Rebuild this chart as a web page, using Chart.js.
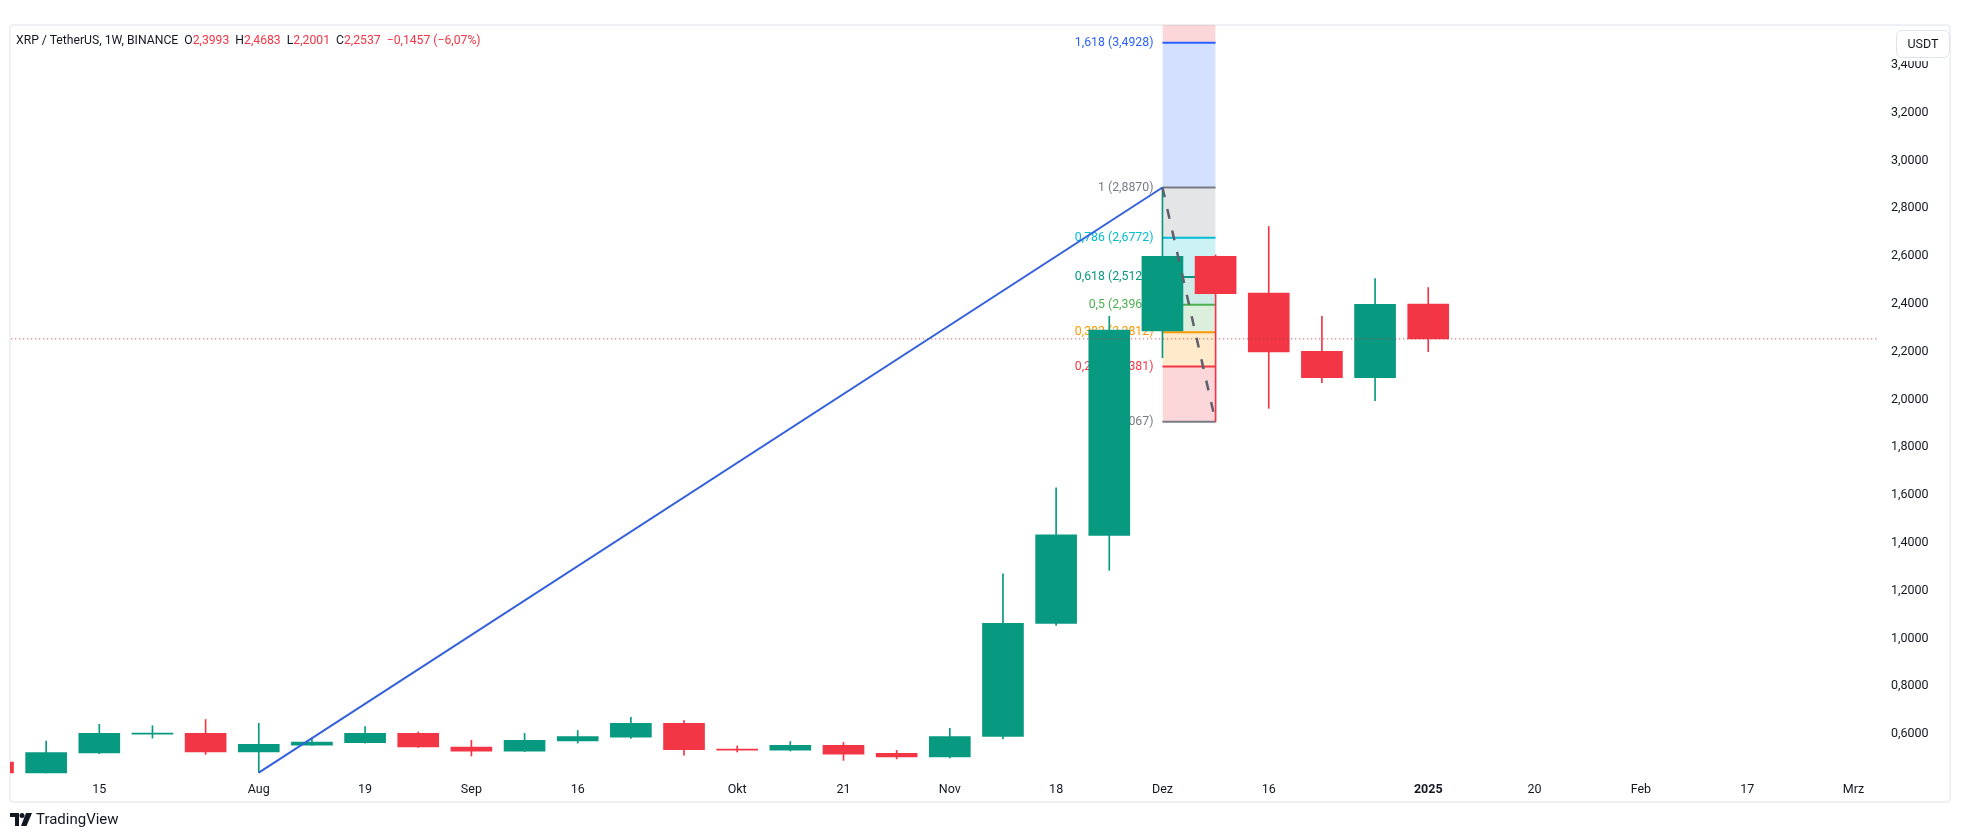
<!DOCTYPE html>
<html>
<head>
<meta charset="utf-8">
<script src="https://cdn.jsdelivr.net/npm/chart.js@4.4.1/dist/chart.umd.min.js"></script>
<style>
  html, body { margin: 0; padding: 0; background: #fff; }
  body { width: 1964px; height: 837px; position: relative; overflow: hidden;
         font-family: Roboto, "Noto Sans", sans-serif; color: #131722; }
  #panel { position: absolute; left: 9px; top: 24px; width: 1942px; height: 779px;
           border: 2px solid #eef0f3; border-radius: 4px; box-sizing: border-box; }
  #chart { position: absolute; left: 0; top: 0; }
  #legend { position: absolute; left: 16px; top: 33px; font-size: 12.2px; white-space: pre; }
  #legend .r { color: #f23645; }
  #usdt { position: absolute; left: 1896px; top: 30px; width: 54px; height: 28px; box-sizing: border-box;
          border: 1px solid #e0e3eb; border-radius: 6px; background: #fff; box-shadow: 0 3px 0 #fff;
          font-size: 12.5px; line-height: 26px; text-align: center; }
  #logo { position: absolute; left: 10px; top: 810px; font-size: 15px; line-height: 18px; display: flex; align-items: center; }
  #logo svg { margin-right: 4px; }
</style>
</head>
<body>
<div id="panel"></div>
<canvas id="chart" width="1964" height="837"></canvas>
<div id="legend">XRP / TetherUS, 1W, BINANCE  O<span class="r">2,3993</span>  H<span class="r">2,4683</span>  L<span class="r">2,2001</span>  C<span class="r">2,2537</span>  <span class="r">−0,1457 (−6,07%)</span></div>
<div id="usdt">USDT</div>
<div id="logo">
  <svg width="22" height="13" viewBox="0 0 22 13"><path d="M0 0H9V13H5V4H0Z" fill="#131722"/><circle cx="12" cy="2.5" r="2.5" fill="#131722"/><path d="M16 0H22L16.5 13H11Z" fill="#131722"/></svg>
  <span>TradingView</span>
</div>
<script>
// weekly candles, index 0 = week of 1 Jul 2024
const weeks  = [0, 1, 2, 3, 4, 5, 6, 7, 8, 9, 10, 11, 12, 13, 14, 15, 16, 17, 18, 19, 20, 21, 22, 23, 24, 25, 26, 27];
const opens  = [0.483, 0.437, 0.521, 0.600, 0.603, 0.525, 0.554, 0.564, 0.603, 0.546, 0.529, 0.571, 0.587, 0.645, 0.537, 0.533, 0.553, 0.519, 0.504, 0.590, 1.063, 1.431, 2.287, 2.599, 2.4455, 2.202, 2.091, 2.3993];
const highs  = [0.490, 0.571, 0.641, 0.635, 0.661, 0.645, 0.585, 0.631, 0.609, 0.574, 0.603, 0.615, 0.670, 0.657, 0.550, 0.569, 0.565, 0.532, 0.624, 1.271, 1.630, 2.348, 2.887, 2.605, 2.724, 2.348, 2.506, 2.4683];
const lows   = [0.383, 0.437, 0.518, 0.583, 0.515, 0.439, 0.553, 0.562, 0.544, 0.508, 0.527, 0.562, 0.582, 0.512, 0.525, 0.529, 0.490, 0.496, 0.500, 0.580, 1.055, 1.285, 2.175, 1.9067, 1.963, 2.070, 1.995, 2.2001];
const closes = [0.437, 0.523, 0.603, 0.604, 0.525, 0.557, 0.567, 0.603, 0.546, 0.529, 0.574, 0.590, 0.645, 0.535, 0.533, 0.553, 0.516, 0.504, 0.590, 1.063, 1.434, 2.290, 2.599, 2.443, 2.199, 2.091, 2.398, 2.2537];

const xTickWeeks  = [2, 5, 7, 9, 11, 14, 16, 18, 20, 22, 24, 27, 29, 31, 33, 35];
const xTickLabels = ['15', 'Aug', '19', 'Sep', '16', 'Okt', '21', 'Nov', '18', 'Dez', '16', '2025', '20', 'Feb', '17', 'Mrz'];
const yTicks = [0.6, 0.8, 1.0, 1.2, 1.4, 1.6, 1.8, 2.0, 2.2, 2.4, 2.6, 2.8, 3.0, 3.2, 3.4];

// fib extension drawn between week 22 and 23
const fibLevels = [0, 0.236, 0.382, 0.5, 0.618, 0.786, 1, 1.618, 2.618];
const fibPrices = [1.9067, 2.1381, 2.2812, 2.3969, 2.5127, 2.6772, 2.8870, 3.4928, 4.4714];
const fibColors = ['#787b86', '#f23645', '#ff9800', '#4caf50', '#089981', '#00bcd4', '#787b86', '#2962ff', '#f23645'];
const fibFrom = 22, fibTo = 23;

const trendLine = [{ x: 5, y: 0.439 }, { x: 22, y: 2.887 }];
const fibSwing  = [{ x: 22, y: 2.887 }, { x: 23, y: 1.9067 }];
const lastPrice = 2.2537;

const UP = '#089981', DOWN = '#f23645';
const candleColors = opens.map((o, i) => closes[i] >= o ? UP : DOWN);
const FONT = 'Roboto, "Noto Sans", sans-serif';

function comma(v, d) { return v.toFixed(d).replace('.', ','); }
function levelText(l) { return String(l).replace('.', ','); }
function alpha(hex, a) {
  const n = parseInt(hex.slice(1), 16);
  return `rgba(${n >> 16},${(n >> 8) & 255},${n & 255},${a})`;
}

const fibDatasets = fibLevels.map((lvl, i) => ({
  type: 'line',
  data: [{ x: fibFrom, y: fibPrices[i] }, { x: fibTo, y: fibPrices[i] }],
  borderColor: fibColors[i],
  borderWidth: 2,
  pointRadius: 0,
  fill: i === 0 ? false : '-1',
  backgroundColor: alpha(fibColors[i], 0.2),
  order: 10
}));

// fib labels sit left of the box, underneath the candles
const fibLabels = {
  id: 'fibLabels',
  beforeDatasetsDraw(chart) {
    const { ctx, chartArea, scales } = chart;
    ctx.save();
    ctx.beginPath();
    ctx.rect(chartArea.left, chartArea.top, chartArea.width, chartArea.height);
    ctx.clip();
    ctx.font = '12.3px ' + FONT;
    ctx.textAlign = 'right';
    ctx.textBaseline = 'middle';
    const x = scales.x.getPixelForValue(fibFrom) - 9;
    fibLevels.forEach((lvl, i) => {
      const y = scales.y.getPixelForValue(fibPrices[i]);
      if (y < chartArea.top || y > chartArea.bottom) return;
      ctx.fillStyle = fibColors[i];
      ctx.fillText(`${levelText(lvl)} (${comma(fibPrices[i], 4)})`, x, y);
    });
    ctx.restore();
  }
};

new Chart(document.getElementById('chart'), {
  type: 'bar',
  data: {
    datasets: [
      {
        type: 'line',
        data: trendLine,
        borderColor: '#3360dc',
        borderWidth: 2,
        pointRadius: 0,
        order: 0
      },
      {
        type: 'line',
        data: fibSwing,
        borderColor: '#5d606b',
        borderWidth: 2.5,
        borderDash: [10, 12],
        pointRadius: 0,
        order: 0
      },
      {
        type: 'line',
        data: [{ x: -5, y: lastPrice }, { x: 40, y: lastPrice }],
        borderColor: '#b8343f',
        borderWidth: 1,
        borderDash: [1, 3],
        pointRadius: 0,
        order: 0
      },
      {
        data: weeks.map((w, i) => ({ x: w, y: [opens[i], closes[i]] })),
        backgroundColor: candleColors,
        barThickness: 41,
        grouped: false,
        order: 1
      },
      {
        data: weeks.map((w, i) => ({ x: w, y: [lows[i], highs[i]] })),
        backgroundColor: candleColors,
        barThickness: 1,
        grouped: false,
        order: 2
      },
      ...fibDatasets
    ]
  },
  options: {
    responsive: false,
    animation: false,
    devicePixelRatio: 1,
    layout: { padding: { left: 10, top: 25, right: 16, bottom: 36 } },
    plugins: { legend: { display: false }, tooltip: { enabled: false } },
    scales: {
      x: {
        type: 'linear',
        offset: false,
        min: 0.32,
        max: 35.48,
        grid: { display: false, drawTicks: false, offset: false },
        border: { display: false },
        afterBuildTicks: (axis) => { axis.ticks = xTickWeeks.map(v => ({ value: v })); },
        afterFit: (axis) => { axis.height = 27; },
        ticks: {
          autoSkip: false,
          maxRotation: 0,
          padding: 8,
          color: '#131722',
          font: (c) => ({ family: FONT, size: 12.5, weight: c.tick && c.tick.value === 27 ? 'bold' : 'normal' }),
          callback: (v) => xTickLabels[xTickWeeks.indexOf(v)]
        }
      },
      y: {
        position: 'right',
        min: 0.433,
        max: 3.567,
        grid: { display: false, drawTicks: false },
        border: { display: false },
        afterBuildTicks: (axis) => { axis.ticks = yTicks.map(v => ({ value: v })); },
        afterFit: (axis) => { axis.width = 69; },
        ticks: {
          padding: 12,
          color: '#131722',
          font: { family: FONT, size: 12.5 },
          callback: (v) => comma(v, 4)
        }
      }
    }
  },
  plugins: [fibLabels]
});
</script>
</body>
</html>
